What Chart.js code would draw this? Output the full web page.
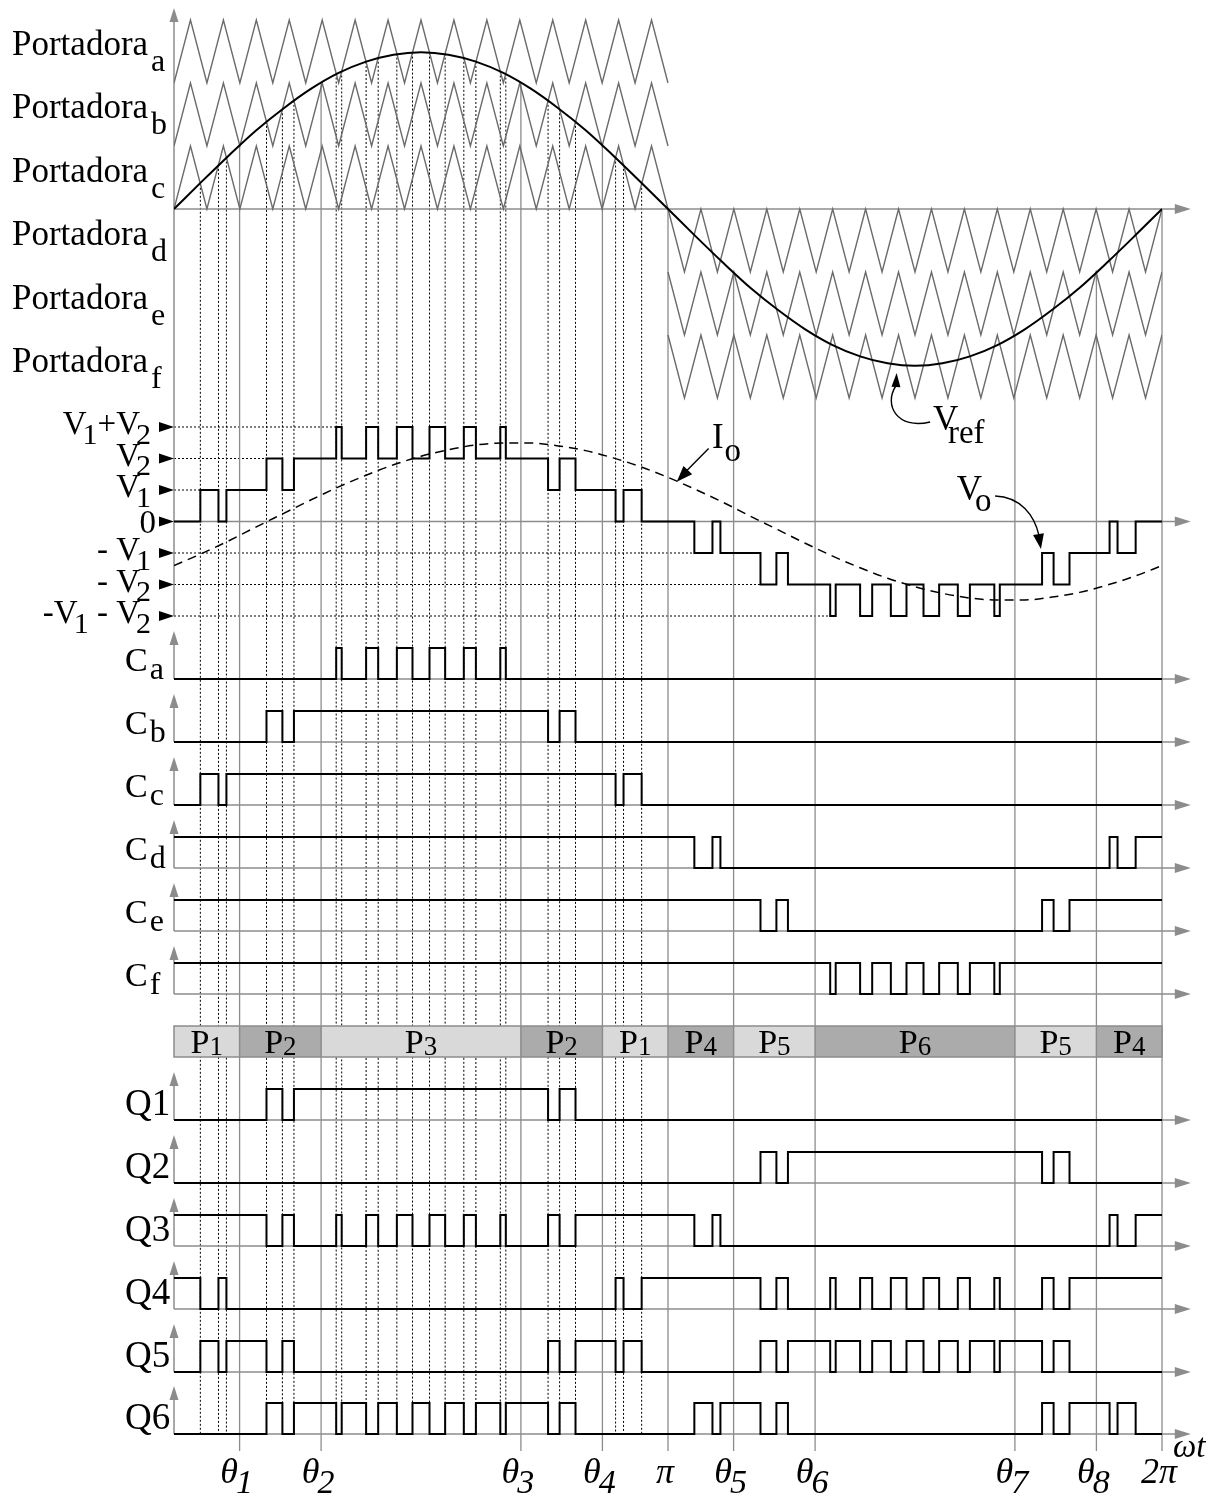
<!DOCTYPE html>
<html><head><meta charset="utf-8">
<script src="https://cdn.jsdelivr.net/npm/chart.js@4/dist/chart.umd.min.js"></script>
<style>html,body{margin:0;padding:0;background:#fff}canvas{display:block}</style>
</head><body>
<canvas id="c" width="1219" height="1499"></canvas>
<script>
// ================= DATA (angles in degrees of ωt) =================
const carrierNames = ['a','b','c','d','e','f'];
const carrierOffsets = [2, 1, 0, 0, -1, -2];            // band of each carrier (in carrier units)
const carrierAnglesPos = [0,6,12,18,24,30,36,42,48,54,60,66,72,78,84,90,96,102,108,114,120,126,132,138,144,150,156,162,168,174,180];
const carrierShapePos  = [0,1,0,1,0,1,0,1,0,1,0,1,0,1,0,1,0,1,0,1,0,1,0,1,0,1,0,1,0,1,0];
const carrierAnglesNeg = [180,186,192,198,204,210,216,222,228,234,240,246,252,258,264,270,276,282,288,294,300,306,312,318,324,330,336,342,348,354,360];
const carrierShapeNeg  = [0,-1,0,-1,0,-1,0,-1,0,-1,0,-1,0,-1,0,-1,0,-1,0,-1,0,-1,0,-1,0,-1,0,-1,0,-1,0];

const sampleAngles = [0,10,20,30,40,50,60,70,80,90,100,110,120,130,140,150,160,170,180,190,200,210,220,230,240,250,260,270,280,290,300,310,320,330,340,350,360];
const vrefValues = [0,0.43,0.85,1.25,1.60,1.91,2.16,2.34,2.45,2.49,2.45,2.34,2.16,1.91,1.60,1.25,0.85,0.43,0,-0.43,-0.85,-1.25,-1.60,-1.91,-2.16,-2.34,-2.45,-2.49,-2.45,-2.34,-2.16,-1.91,-1.60,-1.25,-0.85,-0.43,0];
const ioValues = [-1.40,-1.02,-0.61,-0.17,0.26,0.69,1.10,1.47,1.80,2.07,2.28,2.43,2.49,2.49,2.40,2.25,2.02,1.74,1.40,1.02,0.61,0.17,-0.26,-0.69,-1.10,-1.47,-1.80,-2.07,-2.28,-2.43,-2.49,-2.49,-2.40,-2.25,-2.02,-1.74,-1.40];

// comparator outputs: initial state + switching angles
const cInit = [0,0,0,1,1,1];
const cSwitch = [
  [59.1,61.1,70.0,74.4,81.2,86.9,93.1,98.8,105.6,110.0,118.9,120.9],
  [33.7,39.5,43.7,136.3,140.5,146.3],
  [9.6,16.2,19.1,160.9,163.8,170.4],
  [189.6,196.2,199.1,340.9,343.8,350.4],
  [213.7,219.5,223.7,316.3,320.5,326.3],
  [239.1,241.1,250.0,254.4,261.2,266.9,273.1,278.8,285.6,290.0,298.9,300.9]
];
// switch gate signals
const qInit = [0,0,1,1,0,0];
const qSwitch = [
  [33.7,39.5,43.7,136.3,140.5,146.3],
  [213.7,219.5,223.7,316.3,320.5,326.3],
  [33.7,39.5,43.7,59.1,61.1,70.0,74.4,81.2,86.9,93.1,98.8,105.6,110.0,118.9,120.9,136.3,140.5,146.3,189.6,196.2,199.1,340.9,343.8,350.4],
  [9.6,16.2,19.1,160.9,163.8,170.4,213.7,219.5,223.7,239.1,241.1,250.0,254.4,261.2,266.9,273.1,278.8,285.6,290.0,298.9,300.9,316.3,320.5,326.3],
  [9.6,16.2,19.1,33.7,39.5,43.7,136.3,140.5,146.3,160.9,163.8,170.4,213.7,219.5,223.7,239.1,241.1,250.0,254.4,261.2,266.9,273.1,278.8,285.6,290.0,298.9,300.9,316.3,320.5,326.3],
  [33.7,39.5,43.7,59.1,61.1,70.0,74.4,81.2,86.9,93.1,98.8,105.6,110.0,118.9,120.9,136.3,140.5,146.3,189.6,196.2,199.1,213.7,219.5,223.7,316.3,320.5,326.3,340.9,343.8,350.4]
];
const qNames = ['1','2','3','4','5','6'];

// x-axis marks
const gridAngles = [23.9,53.6,126.4,156.1,180,203.9,233.6,306.4,336.1,360];
const gridTopLevel = [1,2,2,1,0,-1,-2,-2,-1,0];
const axisLabelMain = ['θ','θ','θ','θ','π','θ','θ','θ','θ','2π'];
const axisLabelSub  = ['1','2','3','4','','5','6','7','8',''];

// operating regions
const pStart = [0,23.9,53.6,126.4,156.1,180,203.9,233.6,306.4,336.1];
const pEnd   = [23.9,53.6,126.4,156.1,180,203.9,233.6,306.4,336.1,360];
const pName  = ['1','2','3','2','1','4','5','6','5','4'];
const pDark  = [0,1,0,1,0,1,0,1,0,1];

// output voltage axis labels
const voTickValues = [3,2,1,0,-1,-2,-3];
const voTickLabels = [
  [['V',0],['1',1],['+V',0],['2',1]],
  [['V',0],['2',1]],
  [['V',0],['1',1]],
  [['0',0]],
  [['- V',0],['1',1]],
  [['- V',0],['2',1]],
  [['-V',0],['1',1],[' - V',0],['2',1]]
];

// ================= LAYOUT (rows = y-scale units, angles = x-scale units) =================
const L = {
  carrierZero: 209, bandUnit: 63,
  voZero: 521.5, voUnit: 31.5,
  cBase: [679, 742, 805, 868, 931, 994],
  qBase: [1120, 1183, 1246, 1309, 1372, 1434],
  logicHigh: 31, upArrow: 48,
  pBand: [1026, 1057],
  axisTop: 8, axisBottom: 616, gridBottom: 1451, dotBottom: 1434,
  arrowEnd: 370.5,
  portadoraRows: [55, 118, 182, 245, 309, 372]
};
const SERIF = '"Liberation Serif","Times New Roman",serif';
const GRID = '#8c8c8c', CARRIER = '#6b6b6b';

const carrierRow = v => L.carrierZero - v * L.bandUnit;
const voRow = v => L.voZero - v * L.voUnit;

function stepPoints(init, sw) {
  let s = init; const pts = [{x:0, s}];
  sw.forEach(t => { s = 1 - s; pts.push({x:t, s}); });
  pts.push({x:360, s}); return pts;
}
function stateAt(init, sw, t) { let n = sw.filter(v => v <= t).length; return n % 2 ? 1 - init : init; }
function voLevelAt(t) {
  const st = cInit.map((ini,i) => stateAt(ini, cSwitch[i], t));
  return st[0] + st[1] + st[2] - 3 + st[3] + st[4] + st[5];
}
const voTimes = [0].concat([...new Set(cSwitch.flat())].sort((a,b)=>a-b));
const voPts = voTimes.map(t => ({x:t, y: voRow(voLevelAt(t))}));
voPts.push({x:360, y: voRow(voLevelAt(360))});

function carrierValueAt(i, t) {
  const ang = carrierAnglesPos, shp = carrierShapePos;
  for (let k = 0; k < ang.length - 1; k++) {
    if (t >= ang[k] && t <= ang[k+1]) {
      const f = (t - ang[k]) / (ang[k+1] - ang[k]);
      return shp[k] + f * (shp[k+1] - shp[k]) + carrierOffsets[i];
    }
  }
  return carrierOffsets[i];
}

// ================= DATASETS =================
const datasets = [];
datasets.push({label:'Vref', data: sampleAngles.map((a,k)=>({x:a, y:carrierRow(vrefValues[k])})),
  borderColor:'#000', borderWidth:2, cubicInterpolationMode:'monotone'});
datasets.push({label:'Io', data: sampleAngles.map((a,k)=>({x:a, y:voRow(ioValues[k])})),
  borderColor:'#000', borderWidth:1.5, borderDash:[9,6], cubicInterpolationMode:'monotone'});
datasets.push({label:'Vo', data: voPts, borderColor:'#000', borderWidth:2, stepped:true});
cSwitch.forEach((sw,i) => datasets.push({label:'C'+carrierNames[i],
  data: stepPoints(cInit[i], sw).map(p => ({x:p.x, y:L.cBase[i] - p.s*L.logicHigh})),
  borderColor:'#000', borderWidth:2, stepped:true}));
qSwitch.forEach((sw,i) => datasets.push({label:'Q'+qNames[i],
  data: stepPoints(qInit[i], sw).map(p => ({x:p.x, y:L.qBase[i] - p.s*L.logicHigh})),
  borderColor:'#000', borderWidth:2, stepped:true}));
carrierNames.forEach((n,i) => {
  const pos = i < 3, ang = pos ? carrierAnglesPos : carrierAnglesNeg, shp = pos ? carrierShapePos : carrierShapeNeg;
  datasets.push({label:'Portadora '+n, data: ang.map((a,k)=>({x:a, y:carrierRow(shp[k]+carrierOffsets[i])})),
    borderColor:CARRIER, borderWidth:1.4, tension:0});
});

// ================= DRAW HELPERS =================
function rich(ctx, parts, x, y, align, mainFont, subFont, subDy, kern) {
  const w = parts.map(([t,s]) => { ctx.font = s ? subFont : mainFont; return ctx.measureText(t).width; });
  const total = w.reduce((a,b)=>a+b,0) + kern * parts.filter(p=>p[1]).length;
  let cx = align === 'right' ? x - total : align === 'center' ? x - total/2 : x;
  ctx.textAlign = 'left'; ctx.textBaseline = 'alphabetic';
  parts.forEach(([t,s],i) => { if (s) cx += kern; ctx.font = s ? subFont : mainFont; ctx.fillText(t, cx, s ? y + subDy : y); cx += w[i]; });
}
function head(ctx, tx, ty, fx, fy, len, hw, color) {
  const a = Math.atan2(ty - fy, tx - fx);
  ctx.save(); ctx.fillStyle = color; ctx.beginPath();
  ctx.moveTo(tx, ty);
  ctx.lineTo(tx - len*Math.cos(a) + hw*Math.sin(a), ty - len*Math.sin(a) - hw*Math.cos(a));
  ctx.lineTo(tx - len*Math.cos(a) - hw*Math.sin(a), ty - len*Math.sin(a) + hw*Math.cos(a));
  ctx.closePath(); ctx.fill(); ctx.restore();
}
function line(ctx, x1, y1, x2, y2) { ctx.beginPath(); ctx.moveTo(x1,y1); ctx.lineTo(x2,y2); ctx.stroke(); }

const diagram = {
  id: 'diagram',
  beforeDatasetsDraw(chart) {
    const ctx = chart.ctx, X = v => chart.scales.x.getPixelForValue(v), Y = v => chart.scales.y.getPixelForValue(v);
    ctx.save();
    // dotted switching instants (first half)
    ctx.strokeStyle = '#000'; ctx.lineWidth = 1; ctx.setLineDash([2,2]);
    [0,1,2].forEach(i => cSwitch[i].filter(t => t < 180).forEach(t => {
      line(ctx, X(t), Y(carrierRow(carrierValueAt(i, t))), X(t), Y(L.dotBottom));
    }));
    // dotted level guides in Vo panel
    voTickValues.forEach(v => {
      if (v === 0) return;
      const first = voPts.find(p => Math.abs(p.y - voRow(v)) < 0.01);
      if (first) line(ctx, X(0), Y(voRow(v)), X(first.x), Y(voRow(v)));
    });
    ctx.setLineDash([]);
    // solid angle guides
    ctx.strokeStyle = GRID; ctx.lineWidth = 1.3;
    gridAngles.forEach((a,k) => line(ctx, X(a), Y(carrierRow(gridTopLevel[k])), X(a), Y(L.gridBottom)));
    // operating region band
    pStart.forEach((s,k) => {
      ctx.fillStyle = pDark[k] ? '#ababab' : '#d9d9d9';
      ctx.fillRect(X(s), Y(L.pBand[0]), X(pEnd[k]) - X(s), Y(L.pBand[1]) - Y(L.pBand[0]));
    });
    ctx.strokeStyle = GRID; ctx.lineWidth = 1.5;
    ctx.strokeRect(X(0), Y(L.pBand[0]), X(360) - X(0), Y(L.pBand[1]) - Y(L.pBand[0]));
    pStart.forEach((s,k) => { if (k) line(ctx, X(s), Y(L.pBand[0]), X(s), Y(L.pBand[1])); });
    // main axes
    ctx.lineWidth = 1.5; ctx.strokeStyle = GRID;
    line(ctx, X(0), Y(L.axisTop + 10), X(0), Y(L.axisBottom));
    head(ctx, X(0), Y(L.axisTop), X(0), Y(L.axisTop + 20), 14, 4.5, GRID);
    const baseRows = [L.carrierZero, L.voZero].concat(L.cBase, L.qBase);
    baseRows.forEach(r => {
      line(ctx, X(0), Y(r), X(L.arrowEnd) - 8, Y(r));
      head(ctx, X(L.arrowEnd), Y(r), X(0), Y(r), 16, 5, GRID);
    });
    L.cBase.concat(L.qBase).forEach(r => {
      line(ctx, X(0), Y(r), X(0), Y(r - L.upArrow) + 8);
      head(ctx, X(0), Y(r - L.upArrow), X(0), Y(r), 14, 4.5, GRID);
    });
    ctx.restore();
  },
  afterDatasetsDraw(chart) {
    const ctx = chart.ctx, X = v => chart.scales.x.getPixelForValue(v), Y = v => chart.scales.y.getPixelForValue(v);
    ctx.save(); ctx.fillStyle = '#000'; ctx.strokeStyle = '#000';
    // carrier labels
    carrierNames.forEach((n,i) => rich(ctx, [['Portadora',0],[n,1]], 12, Y(L.portadoraRows[i]), 'left',
      '35px '+SERIF, '32px '+SERIF, 16, 3));
    // Vo tick labels + markers
    voTickValues.forEach((v,k) => {
      const y = Y(voRow(v));
      const isZero = v === 0;
      rich(ctx, voTickLabels[k], isZero ? 156 : 151, y + (isZero ? 11 : 7), 'right', '33px '+SERIF, '30px '+SERIF, 9.5, -4);
      head(ctx, X(0), y, X(0) - 20, y, 15, 5, '#000');
    });
    // C labels
    carrierNames.forEach((n,i) => rich(ctx, [['C',0],[n,1]], 125, Y(L.cBase[i]) - 8, 'left', '34px '+SERIF, '32px '+SERIF, 8, 2));
    // Q labels
    qNames.forEach((n,i) => rich(ctx, [['Q',0],[n,0]], 125, Y(L.qBase[i]) - 5, 'left', '37px '+SERIF, '33px '+SERIF, 0, 0));
    // P labels
    pStart.forEach((s,k) => rich(ctx, [['P',0],[pName[k],1]], (X(s)+X(pEnd[k]))/2, Y(L.pBand[1]) - 4, 'center',
      '34px '+SERIF, '27px '+SERIF, 2, 0));
    // x-axis labels
    gridAngles.forEach((a,k) => {
      const parts = [[axisLabelMain[k],0]]; if (axisLabelSub[k]) parts.push([axisLabelSub[k],1]);
      rich(ctx, parts, X(a) - 3, 1483, 'center', 'italic 36px '+SERIF, 'italic 34px '+SERIF, 10, -2);
    });
    rich(ctx, [['ωt',0]], 1173, 1457, 'left', 'italic 33px '+SERIF, '', 0, 0);
    // Vref annotation
    rich(ctx, [['V',0]], X(276.6), 430, 'left', '35px '+SERIF, '', 0, 0);
    rich(ctx, [['ref',0]], X(282.0), 443, 'left', '33px '+SERIF, '', 0, 0);
    ctx.lineWidth = 1.4;
    ctx.beginPath(); ctx.moveTo(X(275.5), 422); ctx.bezierCurveTo(X(263.5), 430, X(258.5), 405, X(263.0), 386); ctx.stroke();
    head(ctx, X(263.3), 373, X(263.0), 390, 14, 4.5, '#000');
    // Io annotation
    rich(ctx, [['I',0],['o',1]], X(196.0), Y(voRow(2.33)), 'left', '35px '+SERIF, '33px '+SERIF, 13, 1);
    line(ctx, X(194.8), Y(voRow(2.32)), X(185.0), Y(voRow(1.45)));
    head(ctx, X(183.2), Y(voRow(1.26)), X(194.8), Y(voRow(2.32)), 16, 6, '#000');
    // Vo annotation
    rich(ctx, [['V',0],['o',1]], X(285.2), Y(voRow(0.68)), 'left', '35px '+SERIF, '33px '+SERIF, 11, -7);
    ctx.beginPath(); ctx.moveTo(X(299.2), Y(voRow(0.81))); ctx.bezierCurveTo(X(308.5), Y(voRow(0.78)), X(313.5), Y(voRow(0.2)), X(315.2), Y(voRow(-0.45))); ctx.stroke();
    head(ctx, X(315.9), Y(voRow(-0.87)), X(314.4), Y(voRow(-0.1)), 15, 5.5, '#000');
    ctx.restore();
  }
};

new Chart(document.getElementById('c'), {
  type: 'line',
  data: { datasets },
  options: {
    responsive: false, animation: false, devicePixelRatio: 1,
    layout: { padding: { left: 174, right: 57, top: 0, bottom: 0 } },
    elements: { point: { radius: 0, hoverRadius: 0 }, line: { fill: false } },
    plugins: { legend: { display: false }, tooltip: { enabled: false } },
    events: [],
    scales: {
      x: { type: 'linear', min: 0, max: 360, display: false },
      y: { type: 'linear', min: 0, max: 1499, reverse: true, display: false }
    }
  },
  plugins: [diagram]
});
</script>
</body></html>
